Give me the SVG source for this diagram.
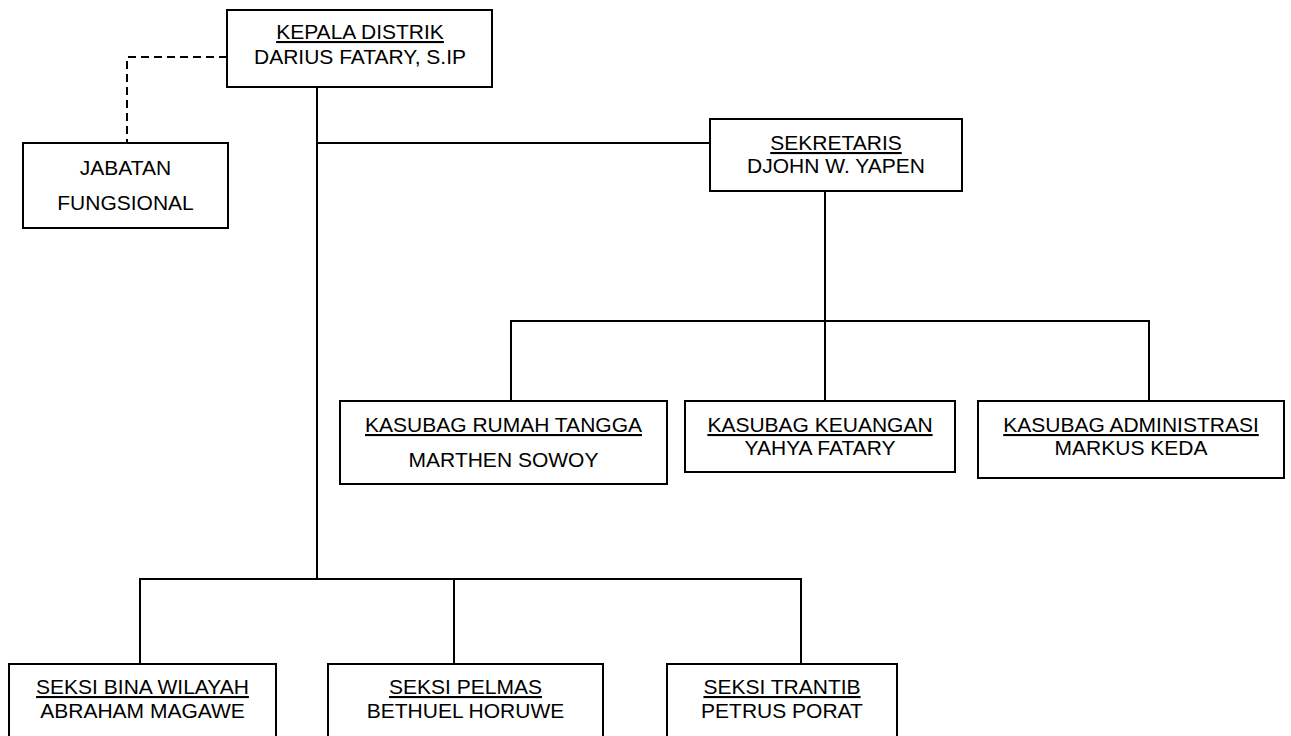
<svg xmlns="http://www.w3.org/2000/svg" width="1291" height="736" viewBox="0 0 1291 736">
<style>
  .box { fill: #ffffff; stroke: #000000; stroke-width: 2; }
  .ln { fill: none; stroke: #000000; stroke-width: 2; }
  .dash { fill: none; stroke: #000000; stroke-width: 2; stroke-dasharray: 8 5; }
  text { font-family: "Liberation Sans", Arial, sans-serif; font-size: 21px; fill: #000000; text-anchor: middle; }
  .u { text-decoration: underline; }
</style>
<rect x="0" y="0" width="1291" height="736" fill="#ffffff"/>
<g id="connectors">
  <path class="dash" d="M227,57 H127 V143"/>
  <path class="ln" d="M317,87 V579"/>
  <path class="ln" d="M317,143 H710"/>
  <path class="ln" d="M825,191 V321"/>
  <path class="ln" d="M511,401 V321 H1149 V401"/>
  <path class="ln" d="M825,321 V401"/>
  <path class="ln" d="M140,664 V579 H801 V664"/>
  <path class="ln" d="M454,579 V664"/>
</g>
<g id="kepala">
  <rect class="box" x="227" y="10" width="265" height="77"/>
  <text class="u" x="360" y="39">KEPALA DISTRIK</text>
  <text x="360" y="64">DARIUS FATARY, S.IP</text>
</g>
<g id="jabatan">
  <rect class="box" x="23" y="143" width="205" height="85"/>
  <text x="125.5" y="175">JABATAN</text>
  <text x="125.5" y="210">FUNGSIONAL</text>
</g>
<g id="sekretaris">
  <rect class="box" x="710" y="119" width="252" height="72"/>
  <text class="u" x="836" y="150">SEKRETARIS</text>
  <text x="836" y="173">DJOHN W. YAPEN</text>
</g>
<g id="kasubag-rt">
  <rect class="box" x="340" y="401" width="327" height="83"/>
  <text class="u" x="503.5" y="432">KASUBAG RUMAH TANGGA</text>
  <text x="503.5" y="467">MARTHEN SOWOY</text>
</g>
<g id="kasubag-keu">
  <rect class="box" x="685" y="401" width="270" height="71"/>
  <text class="u" x="820" y="432">KASUBAG KEUANGAN</text>
  <text x="820" y="455">YAHYA FATARY</text>
</g>
<g id="kasubag-adm">
  <rect class="box" x="978" y="401" width="306" height="77"/>
  <text class="u" x="1131" y="432">KASUBAG ADMINISTRASI</text>
  <text x="1131" y="455">MARKUS KEDA</text>
</g>
<g id="seksi-bina">
  <rect class="box" x="9" y="664" width="267" height="100"/>
  <text class="u" x="142.5" y="694">SEKSI BINA WILAYAH</text>
  <text x="142.5" y="718">ABRAHAM MAGAWE</text>
</g>
<g id="seksi-pelmas">
  <rect class="box" x="328" y="664" width="275" height="100"/>
  <text class="u" x="465.5" y="694">SEKSI PELMAS</text>
  <text x="465.5" y="718">BETHUEL HORUWE</text>
</g>
<g id="seksi-trantib">
  <rect class="box" x="667" y="664" width="230" height="100"/>
  <text class="u" x="782" y="694">SEKSI TRANTIB</text>
  <text x="782" y="718">PETRUS PORAT</text>
</g>
</svg>
